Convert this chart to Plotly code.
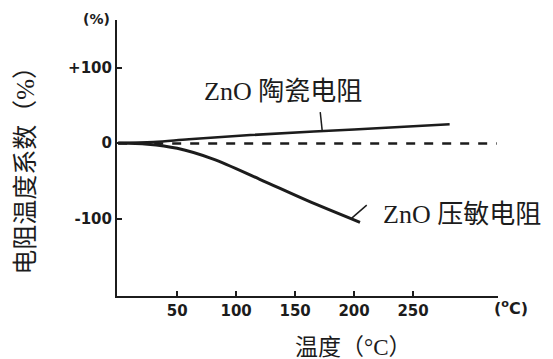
import numpy as np
import plotly.graph_objects as go

# Data
ceramic_x = [0, 30, 60, 112, 200, 281]
ceramic_y = [0, 1.5, 5, 10.5, 18, 25]

varistor_x = [0, 25, 50, 80, 120, 160, 205]
varistor_y = [0, -1.5, -7, -21, -48, -76, -105]

ref_x = [0, 321]
ref_y = [-0.5, -0.5]

x_ticks = [50, 100, 150, 200, 250]
x_ticklabels = ["50", "100", "150", "200", "250"]
y_ticks = [100, 0, -100]
y_ticklabels = ["+100", "0", "-100"]

INK = "#1c1c1c"
CJK = "Liberation Serif, Noto Sans CJK SC"

fig = go.Figure()
fig.add_trace(go.Scatter(x=ref_x, y=ref_y, mode="lines",
                         line=dict(color=INK, width=2.5, dash="dash"), showlegend=False))
fig.add_trace(go.Scatter(x=ceramic_x, y=ceramic_y, mode="lines", line_shape="spline",
                         line=dict(color=INK, width=2.5), showlegend=False))
fig.add_trace(go.Scatter(x=varistor_x, y=varistor_y, mode="lines", line_shape="spline",
                         line=dict(color=INK, width=3), showlegend=False))

tick_font = dict(family="DejaVu Sans", size=15, color=INK)

# page body has an 8px margin, so the figure is 8px smaller and margins shifted
fig.update_layout(
    width=545, height=351,
    margin=dict(l=109, r=55, t=12, b=63),
    paper_bgcolor="white", plot_bgcolor="white",
    xaxis=dict(range=[-1, 322], showgrid=False, zeroline=False,
               showline=True, linecolor=INK, linewidth=2,
               ticks="inside", ticklen=5, tickwidth=1.5, tickcolor=INK,
               tickvals=x_ticks, ticktext=[f"<b>{t}</b>" for t in x_ticklabels],
               tickfont=tick_font),
    yaxis=dict(range=[-202.6, 162.9], showgrid=False, zeroline=False,
               showline=True, linecolor=INK, linewidth=2,
               ticks="inside", ticklen=5, tickwidth=1.5, tickcolor=INK,
               tickvals=y_ticks, ticktext=[f"<b>{t}</b>" for t in y_ticklabels],
               tickfont=tick_font),
)

# pointer strokes from the labels to the curves (anchored on the curves, pixel length)
cx = 173
cy = float(np.interp(cx, ceramic_x, ceramic_y))
vx = 198
vy = float(np.interp(vx, varistor_x, varistor_y)) + 1
fig.add_shape(type="line", xref="x", yref="y", xsizemode="pixel", ysizemode="pixel",
              xanchor=cx, yanchor=cy, x0=0, y0=0, x1=-2, y1=19,
              line=dict(color=INK, width=1.5))
fig.add_shape(type="line", xref="x", yref="y", xsizemode="pixel", ysizemode="pixel",
              xanchor=vx, yanchor=vy, x0=0, y0=0, x1=15, y1=13,
              line=dict(color=INK, width=1.5))

ann = []
# curve labels
ann.append(dict(x=(283 - 118) / 1.18, y=(143 - 91) / 0.755, xref="x", yref="y",
                text="ZnO 陶瓷电阻", showarrow=False,
                font=dict(family=CJK, size=26, color=INK), xanchor="center", yanchor="middle"))
ann.append(dict(x=(381 - 118) / 1.18, y=(143 - 214) / 0.755, xref="x", yref="y",
                text="ZnO 压敏电阻", showarrow=False,
                font=dict(family=CJK, size=26, color=INK), xanchor="left", yanchor="middle"))
# unit labels
ann.append(dict(x=-0.055, y=1.003, xref="paper", yref="paper", text="<b>(%)</b>",
                showarrow=False, font=dict(family="DejaVu Sans", size=14, color=INK),
                xanchor="center", yanchor="middle"))
ann.append(dict(x=1.034, y=-0.04, xref="paper", yref="paper", text="<b>(<sup>o</sup>C)</b>",
                showarrow=False, font=dict(family="DejaVu Sans", size=16, color=INK),
                xanchor="center", yanchor="middle"))
# axis titles
ann.append(dict(x=-0.242, y=0.478, xref="paper", yref="paper", text="电阻温度系数（%）",
                textangle=-90, showarrow=False, font=dict(family=CJK, size=25, color=INK),
                xanchor="center", yanchor="middle"))
ann.append(dict(x=0.622, y=-0.185, xref="paper", yref="paper", text="温度（°C）",
                showarrow=False, font=dict(family=CJK, size=23, color=INK),
                xanchor="center", yanchor="middle"))
fig.update_layout(annotations=ann)

fig.write_html("out.html")
